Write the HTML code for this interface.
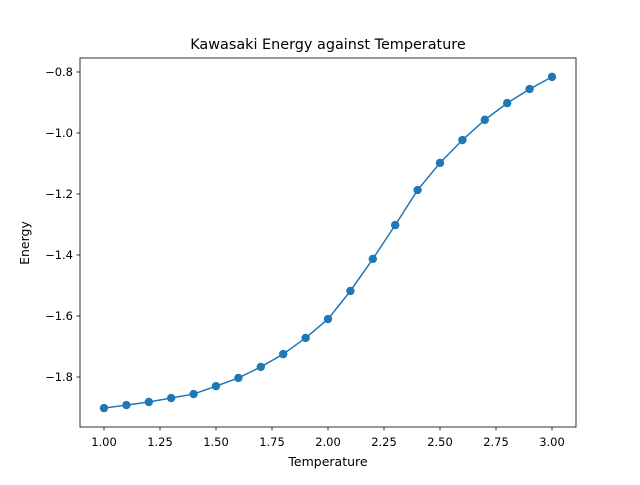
<!DOCTYPE html>
<html><head><meta charset="utf-8"><style>
body{margin:0;background:#fff}
svg text{font-family:"DejaVu Sans","Liberation Sans",sans-serif;fill:#000}
</style></head><body>
<svg id="chart" width="640" height="480" xmlns="http://www.w3.org/2000/svg">
<rect width="640" height="480" fill="#fff"/>
<text x="328" y="49" font-size="14.4" text-anchor="middle">Kawasaki Energy against Temperature</text>
<g id="plot"></g>
<rect x="80" y="58" width="496" height="369" fill="none" stroke="#000" stroke-width="0.8"/>
<text x="328" y="466" font-size="12.5" text-anchor="middle">Temperature</text>
<text x="29" y="243" font-size="12.5" text-anchor="middle" transform="rotate(-90 29 243)">Energy</text>
</svg>
<script>
const temps=[1.0,1.1,1.2,1.3,1.4,1.5,1.6,1.7,1.8,1.9,2.0,2.1,2.2,2.3,2.4,2.5,2.6,2.7,2.8,2.9,3.0];
const energy=[-1.902,-1.892,-1.882,-1.869,-1.856,-1.830,-1.803,-1.767,-1.725,-1.672,-1.610,-1.518,-1.413,-1.302,-1.187,-1.098,-1.023,-0.957,-0.902,-0.856,-0.816];
const xTicks=[1.00,1.25,1.50,1.75,2.00,2.25,2.50,2.75,3.00];
const yTicks=[-1.8,-1.6,-1.4,-1.2,-1.0,-0.8];
const xs=v=>104+(v-1)*224;
const ys=v=>72+(-0.8-v)*305;
const NS="http://www.w3.org/2000/svg";
const g=document.getElementById('plot');
function mk(t,a){const e=document.createElementNS(NS,t);for(const k in a)e.setAttribute(k,a[k]);g.appendChild(e);return e;}
xTicks.forEach(v=>{
  const l=mk('line',{x1:xs(v),x2:xs(v),y1:427,y2:430.5,stroke:'#000','stroke-width':0.8});
  
  
  const t=mk('text',{x:xs(v),y:446,'font-size':11.5,'text-anchor':'middle'});t.textContent=v.toFixed(2);
  
  
});
yTicks.forEach(v=>{
  const l=mk('line',{x1:76.5,x2:80,y1:ys(v),y2:ys(v),stroke:'#000','stroke-width':0.8});
  
  
  const t=mk('text',{x:73,y:ys(v)+4,'font-size':11.5,'text-anchor':'end'});t.textContent='\u2212'+Math.abs(v).toFixed(1);
  
  
});
const pl=mk('polyline',{points:temps.map((t,i)=>xs(t)+','+ys(energy[i])).join(' '),fill:'none',stroke:'#1f77b4','stroke-width':1.5});


temps.forEach((t,i)=>{
  const c=mk('circle',{cx:xs(t),cy:ys(energy[i]),r:4.2,fill:'#1f77b4'});
  
  
});
</script>
</body></html>
